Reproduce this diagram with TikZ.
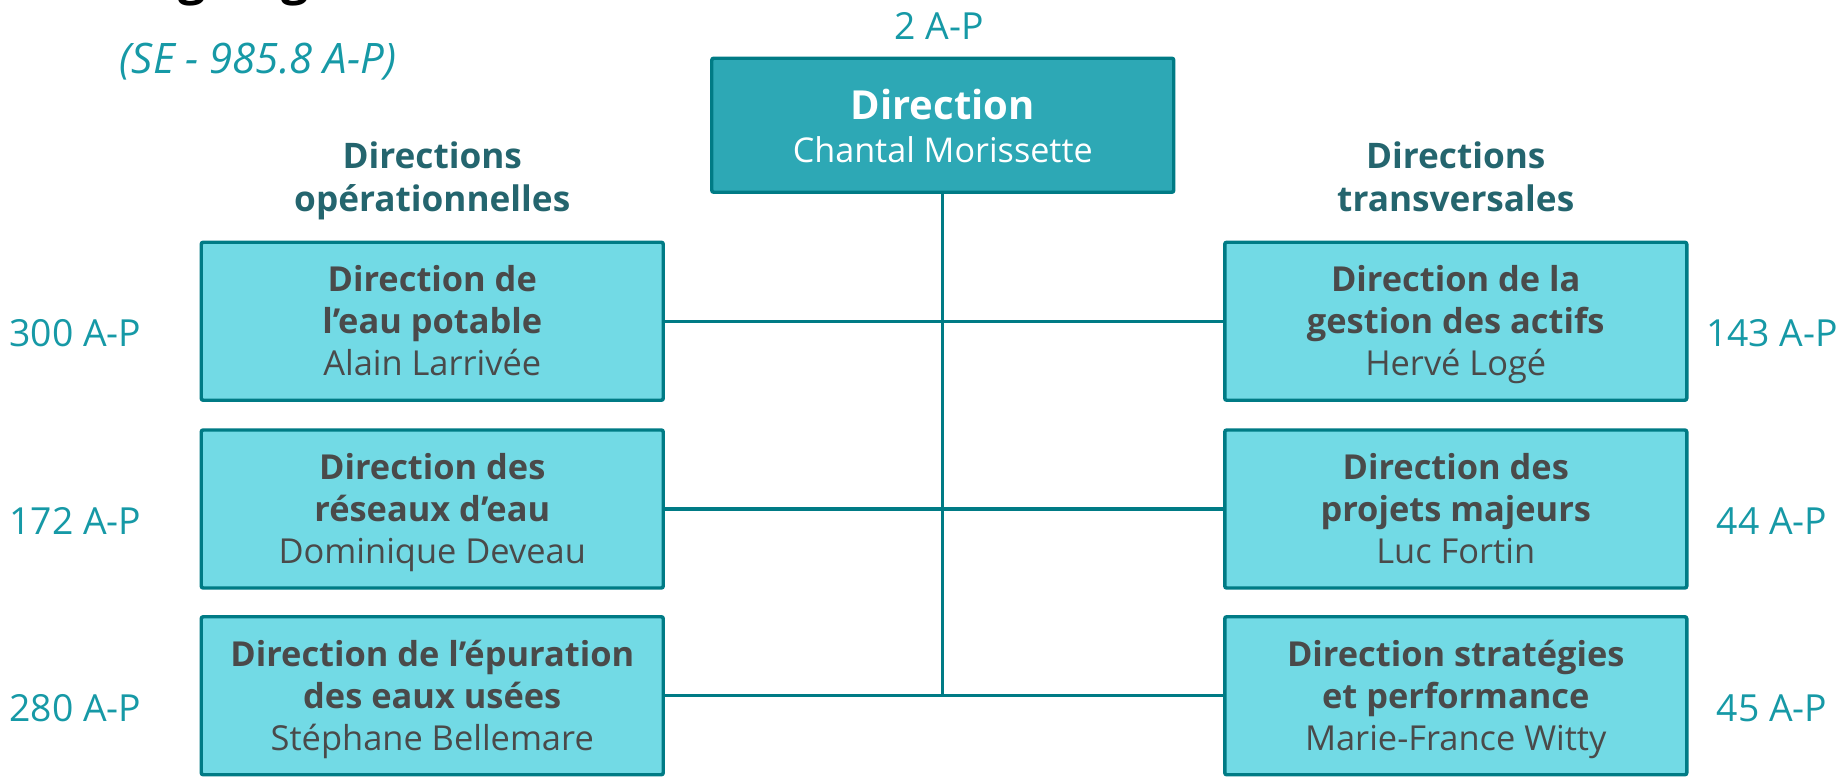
\documentclass[tikz,border=0pt]{standalone}
\usepackage{fontspec}
\setmainfont{Open Sans}
\definecolor{lineC}{RGB}{0,123,133}
\definecolor{topC}{RGB}{45,168,181}
\definecolor{boxC}{RGB}{114,218,229}
\definecolor{txtC}{RGB}{74,74,74}
\definecolor{hdrC}{RGB}{36,101,110}
\definecolor{numC}{RGB}{22,153,166}
\tikzset{
  unitbox/.style={draw=lineC, line width=2.6pt, rounded corners=1.5pt, inner sep=0pt,
    minimum width=346.5pt, minimum height=118.5pt, fill=boxC},
  topbox/.style={unitbox, fill=topC, minimum height=100.5pt},
  conn/.style={draw=lineC, line width=2.5pt},
  bt/.style={anchor=base, inner sep=0pt, text=txtC, font=\fontsize{25.8}{30}\selectfont\bfseries},
  nt/.style={anchor=base, inner sep=0pt, text=txtC, font=\fontsize{25.8}{30}\selectfont},
  hdr/.style={anchor=base, inner sep=0pt, text=hdrC, font=\fontsize{26.4}{30}\selectfont\bfseries},
  num/.style={anchor=base, inner sep=0pt, text=numC, font=\fontsize{28}{32}\selectfont},
}
\begin{document}
\begin{tikzpicture}[x=0.75pt,y=-0.75pt]
\useasboundingbox (0,0) rectangle (1841,777);
% title (cut off at top in the reference)
\node[anchor=base west, inner sep=0pt, text=black, font=\fontsize{36.3}{40}\selectfont\bfseries] (title) at (118,-5.6) {Organigramme};
\node[anchor=base west, inner sep=0pt, text=numC, font=\fontsize{31.5}{36}\selectfont\itshape] (se) at (119.6,74) {(SE - 985.8 A-P)};
% top box
\node[num] (ntop) at (939,40) {2 A-P};
\node[topbox] (top) at (942.75,125.25) {};
\node[anchor=base, inner sep=0pt, text=white, font=\fontsize{30}{34}\selectfont\bfseries] (topa) at (942.75,120) {Direction};
\node[anchor=base, inner sep=0pt, text=white, font=\fontsize{25.6}{30}\selectfont] (topb) at (942.75,162.3) {Chantal Morissette};
% headers
\node[hdr] (hl1) at (432.25,168.3) {Directions};
\node[hdr] (hl2) at (432.25,211.7) {opérationnelles};
\node[hdr] (hr1) at (1455.75,168.3) {Directions};
\node[hdr] (hr2) at (1455.75,211.7) {transversales};
% boxes
\node[unitbox] (l1) at (432.25,321.25) {};
\node[unitbox] (l2) at (432.25,509) {};
\node[unitbox] (l3) at (432.25,695.75) {};
\node[unitbox] (r1) at (1455.75,321.25) {};
\node[unitbox] (r2) at (1455.75,509) {};
\node[unitbox] (r3) at (1455.75,695.75) {};
% connectors
\draw[conn] (top.south) -- (top.south |- l3.east);
\draw[conn] (l1.east) -- (r1.west);
\draw[conn] (l2.east) -- (r2.west);
\draw[conn] (l3.east) -- (r3.west);
% box texts left
\node[bt] (l1a) at (432.25,291.5) {Direction de};
\node[bt] (l1b) at (432.25,333.5) {l’eau potable};
\node[nt] (l1c) at (432.25,375.5) {Alain Larrivée};
\node[bt] (l2a) at (432.25,479.25) {Direction des};
\node[bt] (l2b) at (432.25,521.25) {réseaux d’eau};
\node[nt] (l2c) at (432.25,563.25) {Dominique Deveau};
\node[bt] (l3a) at (432.25,666) {Direction de l’épuration};
\node[bt] (l3b) at (432.25,708) {des eaux usées};
\node[nt] (l3c) at (432.25,750) {Stéphane Bellemare};
% box texts right
\node[bt] (r1a) at (1455.75,291.5) {Direction de la};
\node[bt] (r1b) at (1455.75,333.5) {gestion des actifs};
\node[nt] (r1c) at (1455.75,375.5) {Hervé Logé};
\node[bt] (r2a) at (1455.75,479.25) {Direction des};
\node[bt] (r2b) at (1455.75,521.25) {projets majeurs};
\node[nt] (r2c) at (1455.75,563.25) {Luc Fortin};
\node[bt] (r3a) at (1455.75,666) {Direction stratégies};
\node[bt] (r3b) at (1455.75,708) {et performance};
\node[nt] (r3c) at (1455.75,750) {Marie-France Witty};
% numbers
\node[num] (n1) at (75.5,346.7) {300 A-P};
\node[num] (n2) at (75.5,534.5) {172 A-P};
\node[num] (n3) at (75.5,721.5) {280 A-P};
\node[num] (n4) at (1772,346.7) {143 A-P};
\node[num] (n5) at (1772,534.5) {44 A-P};
\node[num] (n6) at (1772,721.5) {45 A-P};
\end{tikzpicture}
\end{document}
